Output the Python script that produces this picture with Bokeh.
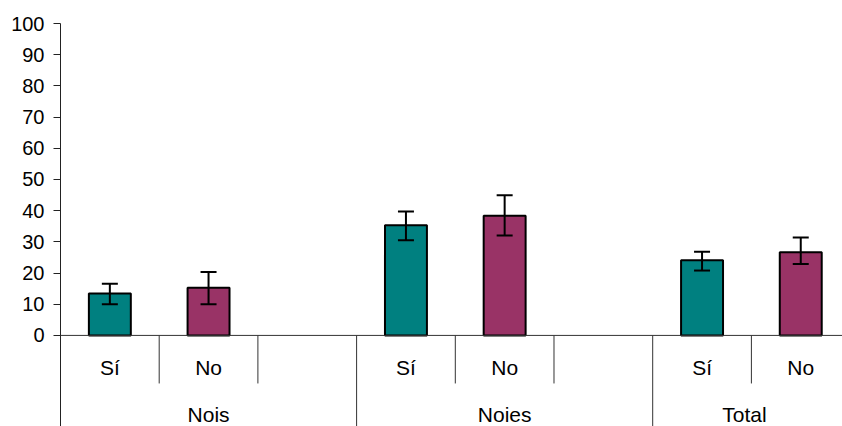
from bokeh.plotting import figure
from bokeh.models import Range1d, FixedTicker, Span, ColumnDataSource, Whisker, TeeHead
from bokeh.embed import file_html
from bokeh.resources import INLINE
from bokeh.core.properties import value

# ---- data ----
groups = ["Nois", "Noies", "Total"]
answers = ["Sí", "No"]
si_values = [13.4, 35.3, 24.1]
no_values = [15.3, 38.4, 26.7]
si_lower = [10.0, 30.5, 20.8]
si_upper = [16.6, 39.7, 26.8]
no_lower = [10.0, 32.0, 22.9]
no_upper = [20.3, 44.9, 31.4]
y_ticks = list(range(0, 101, 10))

# ---- layout helpers (slot positions derived from category structure) ----
slots_per_group = 3
si_x = [g * slots_per_group + 0.5 for g in range(len(groups))]
no_x = [g * slots_per_group + 1.5 for g in range(len(groups))]

FONT = "Liberation Sans"
TEAL = "#008080"
PLUM = "#993366"
Y_BOTTOM = -29.2

p = figure(width=842, height=426, output_backend="svg", toolbar_location=None,
           x_range=Range1d(0, 7.923), y_range=Range1d(Y_BOTTOM, 100),
           x_axis_location=None, min_border_left=60, min_border_right=0,
           min_border_top=23, min_border_bottom=0)
p.outline_line_color = None
p.grid.visible = False
p.background_fill_color = "white"
p.border_fill_color = "white"

ya = p.yaxis[0]
ya.ticker = FixedTicker(ticks=y_ticks)
ya.minor_tick_line_color = None
ya.major_tick_in = 0
ya.major_tick_out = 7
ya.major_label_standoff = 9
ya.axis_line_color = "#222222"
ya.major_tick_line_color = "#222222"
ya.major_label_text_font = FONT
ya.major_label_text_font_size = "20px"
ya.major_label_text_color = "black"

# horizontal category axis line at 0
p.add_layout(Span(location=0, dimension="width", line_color="#333333", line_width=1))

# bars
src_si = ColumnDataSource(dict(x=si_x, top=si_values, lo=si_lower, hi=si_upper))
src_no = ColumnDataSource(dict(x=no_x, top=no_values, lo=no_lower, hi=no_upper))
p.vbar(x="x", top="top", bottom=0, width=0.425, source=src_si,
       fill_color=TEAL, line_color="black", line_width=2)
p.vbar(x="x", top="top", bottom=0, width=0.425, source=src_no,
       fill_color=PLUM, line_color="black", line_width=2)

for src in (src_si, src_no):
    w = Whisker(base="x", upper="hi", lower="lo", source=src,
                line_color="black", line_width=2, level="overlay",
                upper_head=TeeHead(size=16, line_color="black", line_width=2),
                lower_head=TeeHead(size=16, line_color="black", line_width=2))
    p.add_layout(w)

# category separators
n_slots = slots_per_group * len(groups)
sub_sep = [i for i in range(1, n_slots) if i % slots_per_group != 0]
grp_sep = [i for i in range(1, n_slots) if i % slots_per_group == 0]
p.segment(x0=sub_sep, y0=[0] * len(sub_sep), x1=sub_sep, y1=[-15.4] * len(sub_sep),
          line_color="#333333", line_width=1)
p.segment(x0=grp_sep, y0=[0] * len(grp_sep), x1=grp_sep, y1=[Y_BOTTOM] * len(grp_sep),
          line_color="#333333", line_width=1)

# category labels
sub_x = si_x + no_x
sub_t = [answers[0]] * len(si_x) + [answers[1]] * len(no_x)
p.text(x=sub_x, y=[-10.3] * len(sub_x), text=sub_t, text_align="center",
       text_baseline="middle", text_font=value(FONT), text_font_size="21px",
       text_color="black")
grp_x = [1.5, 4.5, 6.93]
p.text(x=grp_x, y=[-25.3] * len(groups), text=groups, text_align="center",
       text_baseline="middle", text_font=value(FONT), text_font_size="21px",
       text_color="black")

open("out.html", "w").write(file_html(p, INLINE))
